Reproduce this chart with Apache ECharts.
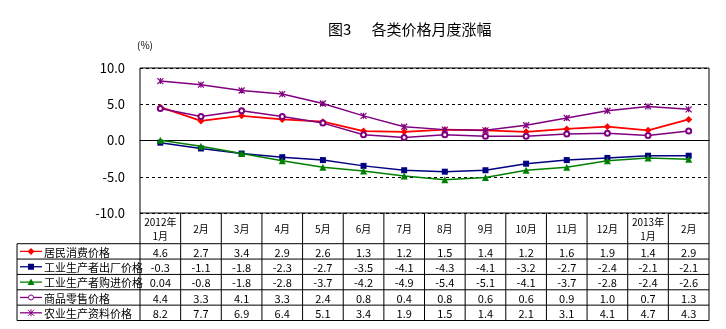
<!DOCTYPE html>
<html><head><meta charset="utf-8">
<script src="https://cdn.jsdelivr.net/npm/echarts@6/dist/echarts.min.js"></script>
<style>html,body{margin:0;padding:0;background:#fff;}#c{width:726px;height:329px;}</style>
</head><body><div id="c"></div>
<script>
const categories = ["2012年\n1月","2月","3月","4月","5月","6月","7月","8月","9月","10月","11月","12月","2013年\n1月","2月"];
const seriesNames = ["居民消费价格","工业生产者出厂价格","工业生产者购进价格","商品零售价格","农业生产资料价格"];
const cpi   = [4.6, 2.7, 3.4, 2.9, 2.6, 1.3, 1.2, 1.5, 1.4, 1.2, 1.6, 1.9, 1.4, 2.9];
const ppiOut= [-0.3, -1.1, -1.8, -2.3, -2.7, -3.5, -4.1, -4.3, -4.1, -3.2, -2.7, -2.4, -2.1, -2.1];
const ppiIn = [0.04, -0.8, -1.8, -2.8, -3.7, -4.2, -4.9, -5.4, -5.1, -4.1, -3.7, -2.8, -2.4, -2.6];
const retail= [4.4, 3.3, 4.1, 3.3, 2.4, 0.8, 0.4, 0.8, 0.6, 0.6, 0.9, 1.0, 0.7, 1.3];
const agri  = [8.2, 7.7, 6.9, 6.4, 5.1, 3.4, 1.9, 1.5, 1.4, 2.1, 3.1, 4.1, 4.7, 4.3];
const yTicks = [-10, -5, 0, 5, 10];
const tableText = [
  ["4.6","2.7","3.4","2.9","2.6","1.3","1.2","1.5","1.4","1.2","1.6","1.9","1.4","2.9"],
  ["-0.3","-1.1","-1.8","-2.3","-2.7","-3.5","-4.1","-4.3","-4.1","-3.2","-2.7","-2.4","-2.1","-2.1"],
  ["0.04","-0.8","-1.8","-2.8","-3.7","-4.2","-4.9","-5.4","-5.1","-4.1","-3.7","-2.8","-2.4","-2.6"],
  ["4.4","3.3","4.1","3.3","2.4","0.8","0.4","0.8","0.6","0.6","0.9","1.0","0.7","1.3"],
  ["8.2","7.7","6.9","6.4","5.1","3.4","1.9","1.5","1.4","2.1","3.1","4.1","4.7","4.3"]
];
const allSeries = [cpi, ppiOut, ppiIn, retail, agri];
const colors = ['#FF0000','#000080','#008000','#800080','#800080'];
const starPath = 'path://M0,0L10,10M10,0L0,10M5,0L5,10';
const symbols = ['diamond','rect','triangle','emptyCircle',starPath];
const symSizes = [7,6,7,5,6];
const font = '"Noto Sans CJK SC", sans-serif';

const chart = echarts.init(document.getElementById('c'));
const nCol = categories.length;
const labelColW = 123/40.64;

function renderTable(params, api){
  const els = [];
  const L = -labelColW;
  const P = (x,y)=>api.coord([x,y]);
  const ln = (a,b)=>els.push({type:'line',shape:{x1:a[0],y1:a[1],x2:b[0],y2:b[1]},style:{stroke:'#000',lineWidth:1}});
  for(let i=0;i<=nCol;i++){ ln(P(i,0),P(i,7)); }
  ln(P(L,2),P(L,7));
  for(let r=2;r<=7;r++){ ln(P(L,r),P(nCol,r)); }
  for(let i=0;i<nCol;i++){
    const c = P(i+0.5,1);
    els.push({type:'text',x:c[0],y:c[1]+1,style:{text:categories[i],fill:'#000',font:'10px '+font,align:'center',verticalAlign:'middle',lineHeight:14}});
  }
  for(let r=0;r<5;r++){
    for(let i=0;i<nCol;i++){
      const c = P(i+0.5,r+2.5);
      els.push({type:'text',x:c[0],y:c[1]+1,style:{text:tableText[r][i],fill:'#000',font:'11px '+font,align:'center',verticalAlign:'middle'}});
    }
    const c0 = P(L,r+2.5);
    const x0 = c0[0], y0 = c0[1];
    els.push({type:'line',shape:{x1:x0+3,y1:y0,x2:x0+25,y2:y0},style:{stroke:colors[r],lineWidth:1.3}});
    const mx = x0+14, my = y0;
    if(r===0) els.push({type:'polygon',shape:{points:[[mx,my-3.5],[mx+3.5,my],[mx,my+3.5],[mx-3.5,my]]},style:{fill:colors[r]}});
    if(r===1) els.push({type:'rect',shape:{x:mx-3,y:my-3,width:6,height:6},style:{fill:colors[r]}});
    if(r===2) els.push({type:'polygon',shape:{points:[[mx,my-3.5],[mx+3.5,my+3],[mx-3.5,my+3]]},style:{fill:colors[r]}});
    if(r===3) els.push({type:'circle',shape:{cx:mx,cy:my,r:2.5},style:{fill:'#fff',stroke:colors[r],lineWidth:1}});
    if(r===4){
      els.push({type:'line',shape:{x1:mx-3,y1:my-3,x2:mx+3,y2:my+3},style:{stroke:colors[r],lineWidth:1}});
      els.push({type:'line',shape:{x1:mx+3,y1:my-3,x2:mx-3,y2:my+3},style:{stroke:colors[r],lineWidth:1}});
      els.push({type:'line',shape:{x1:mx,y1:my-3.5,x2:mx,y2:my+3.5},style:{stroke:colors[r],lineWidth:1}});
    }
    els.push({type:'text',x:x0+27,y:y0+1,style:{text:seriesNames[r],fill:'#000',font:'11px '+font,align:'left',verticalAlign:'middle'}});
  }
  return {type:'group',children:els};
}

const lineSeries = allSeries.map((d,k)=>({
  name: seriesNames[k], type:'line', xAxisIndex:0, yAxisIndex:0, data:d,
  symbol: symbols[k], symbolSize: symSizes[k], showSymbol:true,
  lineStyle:{color:colors[k], width: k===0?1.8:1.5},
  itemStyle: k===4 ? {color:'rgba(0,0,0,0)', borderColor:colors[k], borderWidth:1.2}
           : (k===3 ? {color:colors[k], borderColor:colors[k], borderWidth:1} : {color:colors[k]}),
  emphasis:{disabled:true}, animation:false, z:3+k
}));

chart.setOption({
  animation:false,
  backgroundColor:'#fff',
  title:{text:'图3      各类价格月度涨幅', left:323, top:17, textStyle:{fontSize:15, fontWeight:'normal', color:'#000', fontFamily:font}},
  grid:[
    {left:140, top:68, width:569, height:145, show:true, borderColor:'#000', borderWidth:1, backgroundColor:'transparent'},
    {left:17, top:213, width:692, height:107.5, show:false}
  ],
  xAxis:[
    {type:'category', gridIndex:0, data:categories, boundaryGap:true,
     axisLine:{show:true, onZero:true, lineStyle:{color:'#000', width:1}}, axisTick:{show:false}, axisLabel:{show:false}, splitLine:{show:false}},
    {type:'value', gridIndex:1, min:-labelColW, max:nCol, show:false}
  ],
  yAxis:[
    {type:'value', gridIndex:0, min:yTicks[0], max:yTicks[yTicks.length-1], interval:5,
     name:'(%)', nameLocation:'end', nameGap:18, nameTextStyle:{color:'#000', fontSize:10, fontFamily:font, align:'left', padding:[0,0,0,-3]},
     axisLine:{show:false}, axisTick:{show:false},
     axisLabel:{color:'#000', fontSize:13, margin:15, fontFamily:font, formatter:v=>v.toFixed(1)},
     splitLine:{show:true, lineStyle:{color:'#000', type:[3,3], width:1}}},
    {type:'value', gridIndex:1, min:0, max:7, inverse:true, show:false}
  ],
  series: lineSeries.concat([{
    type:'custom', xAxisIndex:1, yAxisIndex:1, data:[[0,0]], renderItem:renderTable, clip:false, silent:true, animation:false, z:10
  }])
});
</script></body></html>
